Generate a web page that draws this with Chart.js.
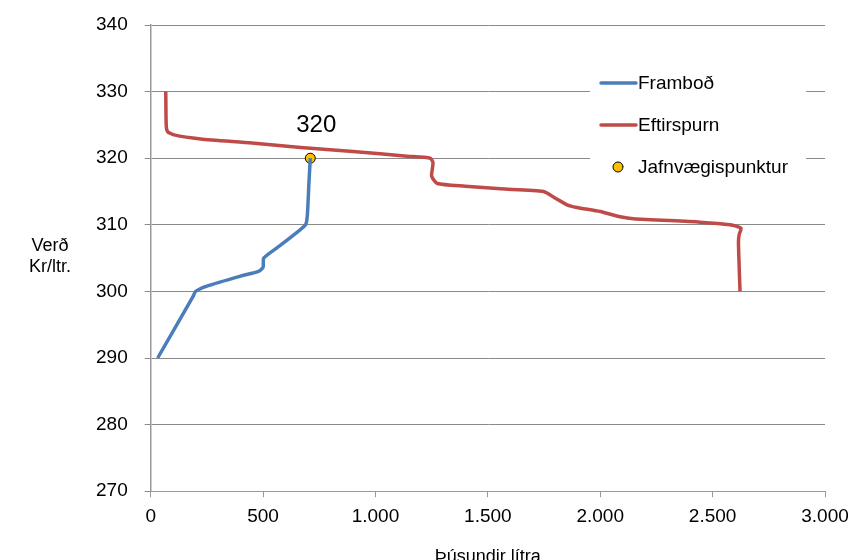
<!DOCTYPE html>
<html>
<head>
<meta charset="utf-8">
<script src="https://cdn.jsdelivr.net/npm/chart.js@4.4.0/dist/chart.umd.min.js"></script>
<style>
    html, body { margin: 0; padding: 0; background: #ffffff; overflow: hidden; }
    #chart-container { width: 849px; height: 560px; }
</style>
</head>
<body>
<div id="chart-container"><canvas id="chart" width="849" height="560"></canvas></div>
<script>
// Framboð (supply) curve
let supplyQty = [31, 188, 200, 250, 400, 480, 500, 503, 560, 630, 689, 697, 704, 710];
let supplyPrice = [290, 299.2, 300, 300.8, 302.3, 303, 303.6, 305, 306.5, 308.3, 310, 311.5, 316.3, 320];

// Eftirspurn (demand) curve
let demandQty = [67, 69, 75, 104, 222, 450, 667, 900, 1141, 1244, 1256, 1250, 1275, 1400, 1556, 1748, 1800, 1852, 1896, 2000, 2089, 2148, 2444, 2578, 2626, 2618, 2615, 2622];
let demandPrice = [330, 325, 324, 323.5, 322.9, 322.3, 321.6, 321, 320.3, 320, 319.3, 317.3, 316.2, 315.8, 315.4, 315, 314, 313, 312.6, 312, 311.2, 310.9, 310.4, 310, 309.5, 308.5, 307.3, 300];

// Jafnvægispunktur (equilibrium)
let eqQty = [710];
let eqPrice = [320];
let eqLabel = "320";

let seriesNames = ["Framboð", "Eftirspurn", "Jafnvægispunktur"];
let xTickLabels = ["0", "500", "1.000", "1.500", "2.000", "2.500", "3.000"];
let yTitle = ["Verð", "Kr/ltr."];
let xTitle = "Þúsundir lítra";

let blue = "#4a7ebb";
let red = "#be4b48";
let gold = "#ffc000";
let fontName = "'Liberation Sans', Arial, sans-serif";

function toPoints(xs, ys) {
    return xs.map((x, i) => ({ x: x, y: ys[i] }));
}

let extrasPlugin = {
    id: "extras",
    afterDraw(chart) {
        let ctx = chart.ctx;
        let xs = chart.scales.x;
        let ys = chart.scales.y;
        ctx.save();

        // equilibrium value label
        ctx.fillStyle = "#000";
        ctx.font = "24px " + fontName;
        ctx.textAlign = "center";
        ctx.textBaseline = "alphabetic";
        ctx.fillText(eqLabel, xs.getPixelForValue(eqQty[0]) + 6, ys.getPixelForValue(eqPrice[0]) - 26);

        // legend
        ctx.fillStyle = "#fff";
        ctx.fillRect(590, 60, 216, 125);
        ctx.font = "19px " + fontName;
        ctx.textAlign = "left";
        ctx.lineWidth = 3.5;
        ctx.lineCap = "round";
        ctx.strokeStyle = blue;
        ctx.beginPath(); ctx.moveTo(601, 83); ctx.lineTo(636, 83); ctx.stroke();
        ctx.strokeStyle = red;
        ctx.beginPath(); ctx.moveTo(601, 125); ctx.lineTo(636, 125); ctx.stroke();
        ctx.fillStyle = "#000";
        ctx.fillText(seriesNames[0], 638, 89);
        ctx.fillText(seriesNames[1], 638, 131);
        ctx.fillText(seriesNames[2], 638, 173);
        ctx.beginPath();
        ctx.arc(618, 167, 5, 0, Math.PI * 2);
        ctx.fillStyle = gold;
        ctx.fill();
        ctx.lineWidth = 1;
        ctx.strokeStyle = "#000";
        ctx.stroke();

        // axis titles
        ctx.fillStyle = "#000";
        ctx.font = "18px " + fontName;
        ctx.textAlign = "center";
        ctx.fillText(yTitle[0], 50, 251);
        ctx.fillText(yTitle[1], 50, 272);
        ctx.fillText(xTitle, (xs.left + xs.right) / 2, 562);
        ctx.restore();
    }
};

let designCanvas = document.getElementById("chart").getContext("2d");
new Chart(designCanvas, {
    type: "scatter",
    data: {
        datasets: [{
            label: seriesNames[0],
            data: toPoints(supplyQty, supplyPrice),
            showLine: true,
            borderColor: blue,
            borderWidth: 3.5,
            pointRadius: 0,
            tension: 0.2
        }, {
            label: seriesNames[1],
            data: toPoints(demandQty, demandPrice),
            showLine: true,
            borderColor: red,
            borderWidth: 3.5,
            pointRadius: 0,
            tension: 0.2
        }, {
            label: seriesNames[2],
            data: toPoints(eqQty, eqPrice),
            pointRadius: 5,
            pointBackgroundColor: gold,
            pointBorderColor: "#000",
            pointBorderWidth: 1
        }]
    },
    options: {
        responsive: false,
        animation: false,
        maintainAspectRatio: false,
        layout: { padding: { left: 79, right: 24, top: 25, bottom: 24 } },
        plugins: {
            legend: { display: false },
            tooltip: { enabled: false }
        },
        scales: {
            x: {
                type: "linear",
                min: 0,
                max: 3000,
                afterFit: (scale) => { scale.paddingLeft = 0; scale.paddingRight = 0; },
                ticks: {
                    stepSize: 500,
                    color: "#000",
                    padding: 8,
                    maxRotation: 0,
                    font: { family: fontName, size: 19 },
                    callback: (value) => xTickLabels[Math.round(value / 500)]
                },
                grid: { drawOnChartArea: false, drawTicks: true, tickLength: 6, color: "#999" },
                border: { color: "#999", width: 1 }
            },
            y: {
                min: 270,
                max: 340,
                afterFit: (scale) => { scale.paddingTop = 0; scale.paddingBottom = 0; },
                ticks: {
                    stepSize: 10,
                    color: "#000",
                    padding: 17,
                    font: { family: fontName, size: 19 }
                },
                grid: { color: "#8a8a8a", tickLength: 6, lineWidth: 1 },
                border: { color: "#999", width: 1.5 }
            }
        }
    },
    plugins: [extrasPlugin]
});
</script>
</body>
</html>
